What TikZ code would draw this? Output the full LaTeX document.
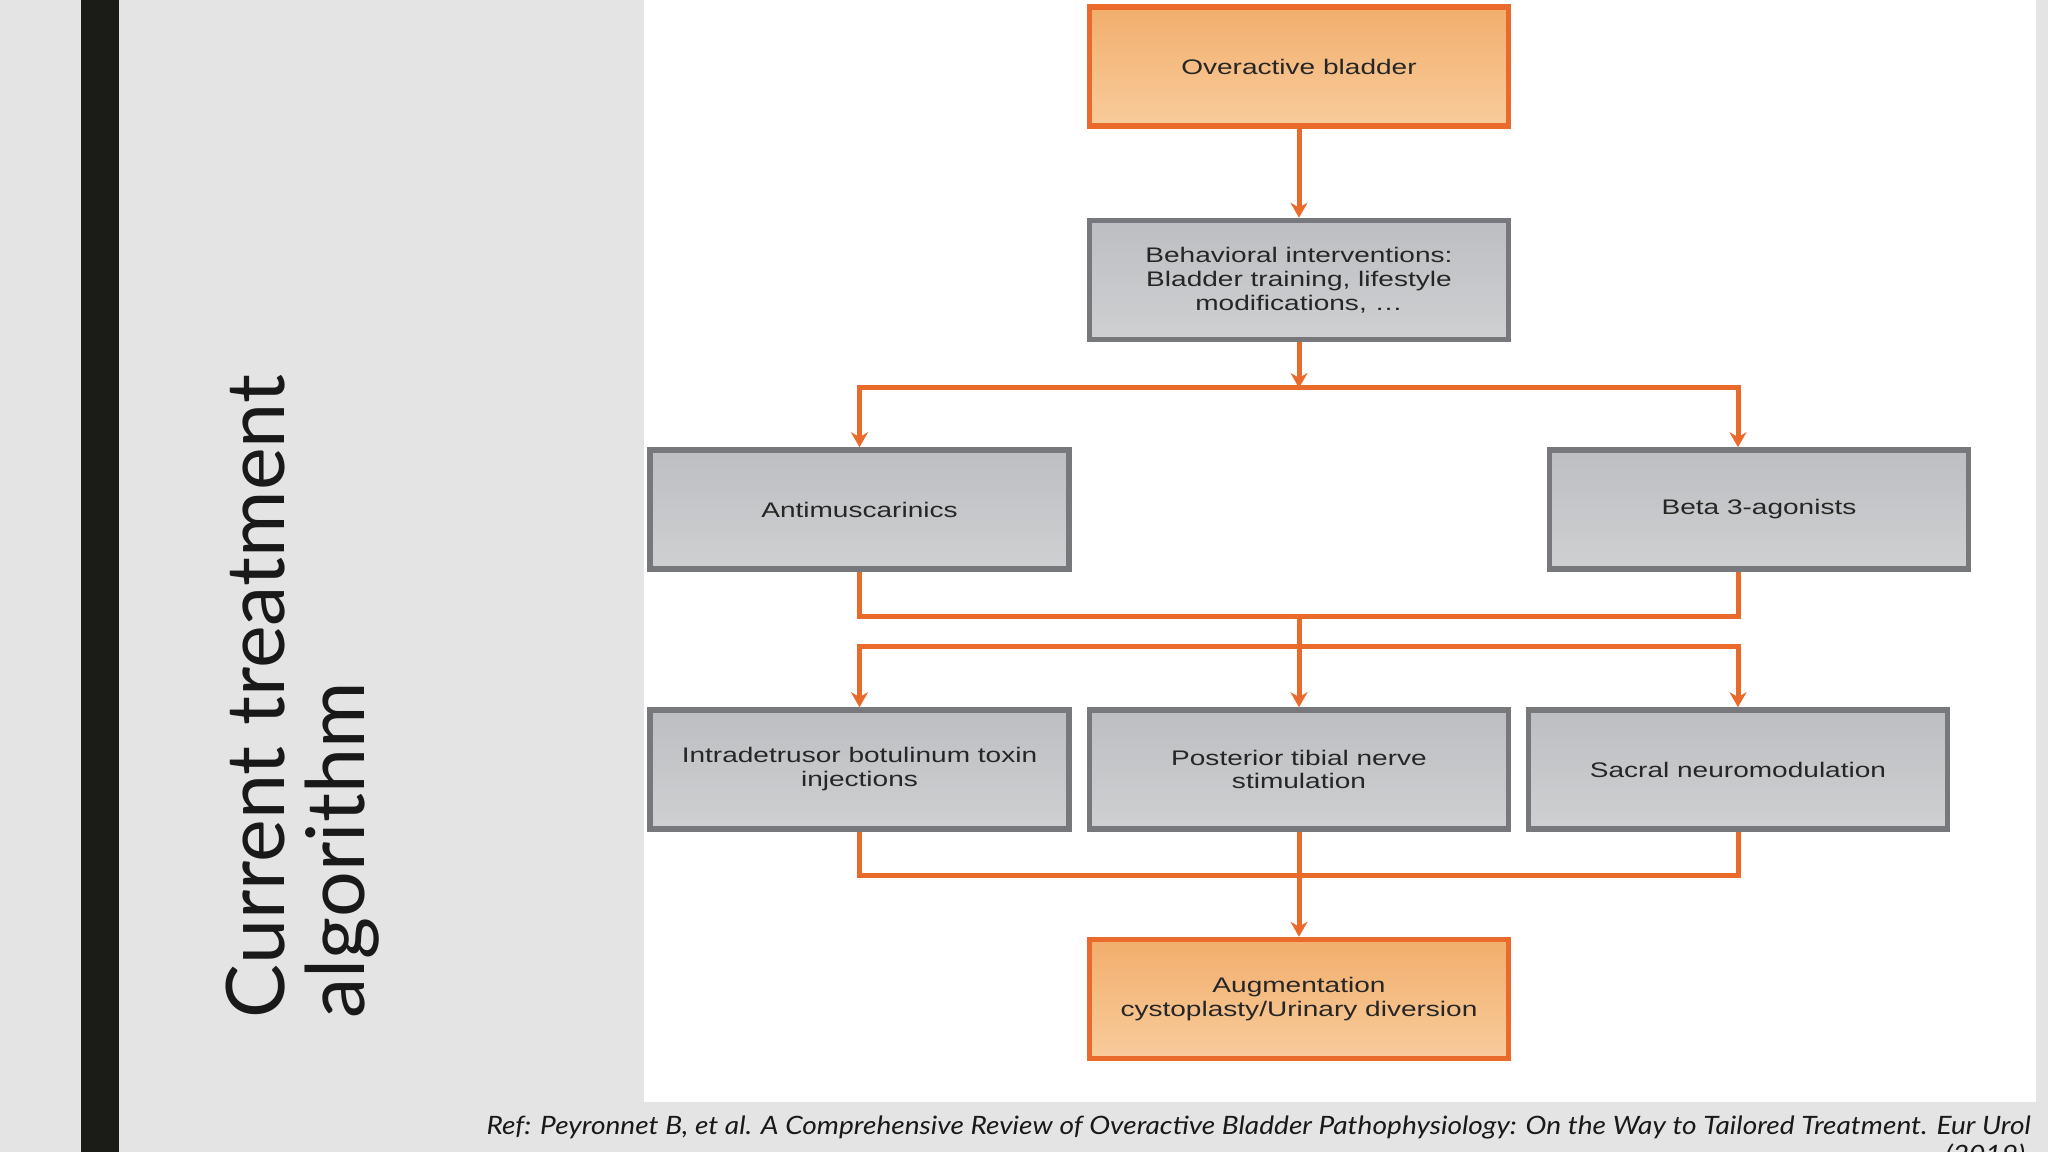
\documentclass[tikz,border=0pt]{standalone}
\usepackage{fontspec}
\usepackage{tikz}
\usetikzlibrary{arrows.meta}
\setmainfont{Liberation Sans}
\newfontfamily\boxFont[FakeStretch=1.33]{Liberation Sans}
\newfontfamily\slideFont{Lato}
\newfontfamily\refFont[FakeStretch=1.11]{Lato}
\definecolor{orangeLine}{HTML}{E96A2A}
\definecolor{orangeTop}{HTML}{F2AE6C}
\definecolor{orangeBottom}{HTML}{F8CC9C}
\definecolor{greyTop}{HTML}{BDBEC1}
\definecolor{greyBottom}{HTML}{CFD0D2}
\definecolor{greyLine}{HTML}{77787B}
\definecolor{slideBack}{HTML}{E4E4E4}
\definecolor{barBlack}{HTML}{1B1C17}

\tikzset{
  greyBox/.style={draw=greyLine, line width=0.055cm, top color=greyTop, bottom color=greyBottom,
    minimum width=4.19cm, minimum height=1.19cm, align=center, inner sep=0pt,
    font=\boxFont\fontsize{6}{6.8}\selectfont, text=black!85},
  orangeBox/.style={greyBox, draw=orangeLine, top color=orangeTop, bottom color=orangeBottom},
  flowLine/.style={draw=orangeLine, line width=0.05cm},
  flowArrow/.style={flowLine, -{Stealth[length=0.15cm,width=0.17cm]}}
}

\begin{document}
\begin{tikzpicture}
    \pgfmathsetmacro{\colLeft}{8.595}
    \pgfmathsetmacro{\colMid}{12.99}
    \pgfmathsetmacro{\colRight}{17.38}
    \pgfmathsetmacro{\betaShift}{0.21}
    \pgfmathsetmacro{\rowA}{10.855}
    \pgfmathsetmacro{\rowB}{8.72}
    \pgfmathsetmacro{\rowC}{6.425}
    \pgfmathsetmacro{\rowD}{3.825}
    \pgfmathsetmacro{\rowE}{1.53}
    \pgfmathsetmacro{\splitA}{7.64}
    \pgfmathsetmacro{\mergeA}{5.35}
    \pgfmathsetmacro{\splitB}{5.05}
    \pgfmathsetmacro{\mergeB}{2.76}

    % Hintergrund
    \useasboundingbox (0,0) rectangle (20.48,11.52);
    \fill[slideBack] (0,0) rectangle (20.48,11.52);
    \fill[barBlack] (0.81,0) rectangle (1.19,11.52);
    \fill[white] (6.44,0.50) rectangle (20.36,11.52);

    % Titel
    \node[rotate=90, anchor=base west, inner sep=0pt, text=black!90,
      font=\slideFont\fontsize{23}{27}\selectfont] (titleTop) at (2.84,1.33) {Current treatment};
    \node[rotate=90, anchor=base west, inner sep=0pt, text=black!90,
      font=\slideFont\fontsize{23}{27}\selectfont] (titleBottom) at (3.64,1.33) {algorithm};

    % Kaesten
    \node[orangeBox] (bladder) at (\colMid,\rowA) {Overactive bladder};
    \node[greyBox] (behavioral) at (\colMid,\rowB) {Behavioral interventions:\\Bladder training, lifestyle\\modifications, \dots};
    \node[greyBox] (antimuscarinics) at (\colLeft,\rowC) {Antimuscarinics};
    \node[greyBox] (beta) at (\colRight+\betaShift,\rowC) {Beta 3-agonists};
    \node[greyBox] (botox) at (\colLeft,\rowD) {Intradetrusor botulinum toxin\\injections};
    \node[greyBox] (tibial) at (\colMid,\rowD) {Posterior tibial nerve\\stimulation};
    \node[greyBox] (sacral) at (\colRight,\rowD) {Sacral neuromodulation};
    \node[orangeBox] (augmentation) at (\colMid,\rowE) {Augmentation\\cystoplasty/Urinary diversion};

    % Verzweigungen
    \coordinate (splitTop) at (\colMid,\splitA);
    \coordinate (mergeTop) at (\colMid,\mergeA);
    \coordinate (splitBottom) at (\colMid,\splitB);
    \coordinate (mergeBottom) at (\colMid,\mergeB);
    \coordinate (betaIn) at (sacral.north |- beta.north);
    \coordinate (betaOut) at (sacral.north |- beta.south);

    % Pfeile
    \draw[flowArrow] (bladder) -- (behavioral);
    \draw[flowArrow] (behavioral) -- (splitTop);
    \draw[flowArrow] (splitTop) -| (antimuscarinics.north);
    \draw[flowArrow] (splitTop) -| (betaIn);
    \draw[flowLine] (antimuscarinics.south) |- (mergeTop) -| (betaOut);
    \draw[flowArrow] (mergeTop) -- (tibial.north);
    \draw[flowArrow] (splitBottom) -| (botox.north);
    \draw[flowArrow] (splitBottom) -| (sacral.north);
    \draw[flowLine] (botox.south) |- (mergeBottom) -| (sacral.south);
    \draw[flowArrow] (tibial.south) -- (augmentation.north);

    % Quelle
    \node[anchor=base east, inner sep=0pt, text=black!90,
      font=\refFont\itshape\fontsize{7.2}{8.5}\selectfont] (reference) at (20.31,0.17)
      {Ref: Peyronnet B, et al. A Comprehensive Review of Overactive Bladder Pathophysiology: On the Way to Tailored Treatment. Eur Urol};
    \node[anchor=base east, inner sep=0pt, text=black!90,
      font=\refFont\itshape\fontsize{7.2}{8.5}\selectfont] (referenceYear) at (20.26,-0.12) {(2019)};
\end{tikzpicture}
\end{document}
